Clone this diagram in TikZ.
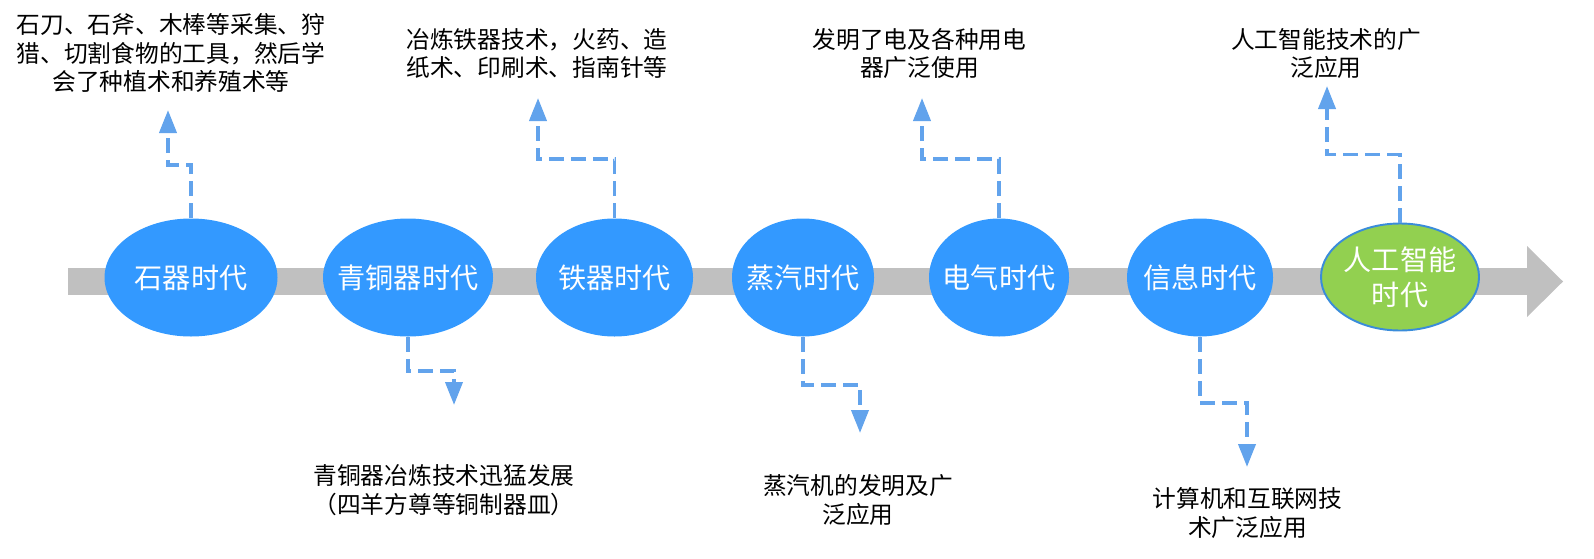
\documentclass[tikz,border=0pt]{standalone}
\usepackage{fontspec}
\setmainfont{Noto Sans CJK SC}
\usepackage{tikz}
\usetikzlibrary{arrows.meta,positioning,shapes.geometric}
\definecolor{erablue}{RGB}{51,153,255}
\definecolor{aigreen}{RGB}{146,208,80}
\definecolor{aiborder}{RGB}{58,140,218}
\definecolor{linkblue}{RGB}{98,163,236}
\definecolor{bargray}{RGB}{192,192,192}

\begin{document}
\begin{tikzpicture}[
  eratext/.style={text=white, align=center, inner sep=0pt, font=\fontsize{16pt}{19.9pt}\selectfont},
  era/.style={ellipse, fill=erablue, inner sep=0pt, minimum height=2.36cm, label={[eratext]center:#1}},
  note/.style={align=center, inner sep=0pt, font=\fontsize{13.5pt}{16.4pt}\selectfont},
  link/.style={linkblue, line width=2.2pt, dash pattern=on 0.3cm off 0.14cm, -{Triangle[length=0.46cm,width=0.34cm]}}
]
\useasboundingbox (0,0) rectangle (31.88,11.16);
\fill[bargray] (1.36,5.26) rectangle (30.54,5.80);
\fill[bargray] (30.54,4.82) -- (31.26,5.53) -- (30.54,6.24) -- cycle;

\node[era=石器时代, minimum width=3.46cm] (stone) at (3.82,5.61) {};
\node[era=青铜器时代, minimum width=3.40cm] (bronze) at (8.16,5.61) {};
\node[era=铁器时代, minimum width=3.14cm] (iron) at (12.29,5.61) {};
\node[era=蒸汽时代, minimum width=2.84cm] (steam) at (16.06,5.61) {};
\node[era=电气时代, minimum width=2.80cm] (electric) at (19.98,5.61) {};
\node[era=信息时代, minimum width=2.92cm] (info) at (24.00,5.61) {};
\node[era={人工智能\\时代}, fill=aigreen, draw=aiborder, line width=1.1pt, minimum width=3.16cm, minimum height=2.14cm] (ai) at (28.00,5.62) {};

\coordinate (tip1) at (3.36,8.96);
\coordinate (tip2) at (9.08,3.06);
\coordinate (tip3) at (10.76,9.20);
\coordinate (tip4) at (17.20,2.50);
\coordinate (tip5) at (18.44,9.20);
\coordinate (tip6) at (24.94,1.82);
\coordinate (tip7) at (26.54,9.44);

\draw[link] (stone.north) -- ++(0,1.07) -| (tip1);
\draw[link] (bronze.south) -- ++(0,-0.68) -| (tip2);
\draw[link] (iron.north) -- ++(0,1.18) -| (tip3);
\draw[link] (steam.south) -- ++(0,-0.96) -| (tip4);
\draw[link] (electric.north) -- ++(0,1.18) -| (tip5);
\draw[link] (info.south) -- ++(0,-1.32) -| (tip6);
\draw[link] (ai.north) -- ++(0,1.36) -| (tip7);

\node[note] (stonenote) at (3.42,10.10) {石刀、石斧、木棒等采集、狩\\猎、切割食物的工具，然后学\\会了种植术和养殖术等};
\node[note] (bronzenote) at (8.88,1.36) {青铜器冶炼技术迅猛发展\\（四羊方尊等铜制器皿）};
\node[note] (ironnote) at (10.74,10.09) {冶炼铁器技术，火药、造\\纸术、印刷术、指南针等};
\node[note] (steamnote) at (17.16,1.16) {蒸汽机的发明及广\\泛应用};
\node[note] (electricnote) at (18.39,10.09) {发明了电及各种用电\\器广泛使用};
\node[note] (infonote) at (24.95,0.90) {计算机和互联网技\\术广泛应用};
\node[note] (ainote) at (26.52,10.09) {人工智能技术的广\\泛应用};
\end{tikzpicture}
\end{document}
